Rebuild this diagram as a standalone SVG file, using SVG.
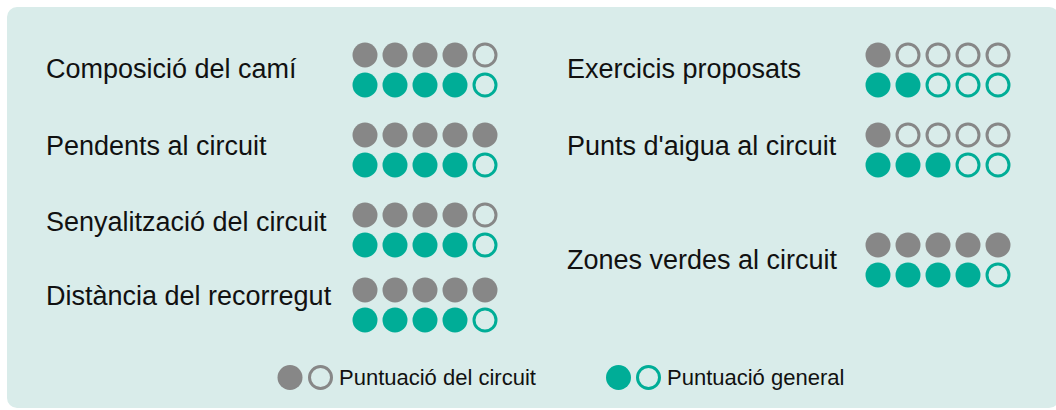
<svg xmlns="http://www.w3.org/2000/svg" width="1056" height="410" viewBox="0 0 1056 410">
  <style>
    .bg { fill: #d9ecea; }
    .lbl { font-family: "Liberation Sans", Arial, sans-serif; font-size: 27px; fill: #111111; }
    .leg { font-family: "Liberation Sans", Arial, sans-serif; font-size: 22px; fill: #111111; }
    .gf { fill: #878787; }
    .go { fill: none; stroke: #878787; stroke-width: 3; }
    .tf { fill: #00ad97; }
    .to { fill: none; stroke: #00ad97; stroke-width: 3; }
  </style>
  <defs>
    <circle id="gF" r="12.5" class="gf"/>
    <circle id="gO" r="11" class="go"/>
    <circle id="tF" r="12.5" class="tf"/>
    <circle id="tO" r="11" class="to"/>
  </defs>
  <rect class="bg" x="7" y="7" width="1052" height="401" rx="10" ry="10"/>

  <g id="composicio">
    <text class="lbl" x="46" y="78">Composició del camí</text>
    <use href="#gF" x="365" y="55"/><use href="#gF" x="395" y="55"/><use href="#gF" x="425" y="55"/><use href="#gF" x="455" y="55"/><use href="#gO" x="485" y="55"/>
    <use href="#tF" x="365" y="85"/><use href="#tF" x="395" y="85"/><use href="#tF" x="425" y="85"/><use href="#tF" x="455" y="85"/><use href="#tO" x="485" y="85"/>
  </g>

  <g id="pendents">
    <text class="lbl" x="46" y="155">Pendents al circuit</text>
    <use href="#gF" x="365" y="135"/><use href="#gF" x="395" y="135"/><use href="#gF" x="425" y="135"/><use href="#gF" x="455" y="135"/><use href="#gF" x="485" y="135"/>
    <use href="#tF" x="365" y="165"/><use href="#tF" x="395" y="165"/><use href="#tF" x="425" y="165"/><use href="#tF" x="455" y="165"/><use href="#tO" x="485" y="165"/>
  </g>

  <g id="senyalitzacio">
    <text class="lbl" x="46" y="231">Senyalització del circuit</text>
    <use href="#gF" x="365" y="215"/><use href="#gF" x="395" y="215"/><use href="#gF" x="425" y="215"/><use href="#gF" x="455" y="215"/><use href="#gO" x="485" y="215"/>
    <use href="#tF" x="365" y="245"/><use href="#tF" x="395" y="245"/><use href="#tF" x="425" y="245"/><use href="#tF" x="455" y="245"/><use href="#tO" x="485" y="245"/>
  </g>

  <g id="distancia">
    <text class="lbl" x="46" y="305">Distància del recorregut</text>
    <use href="#gF" x="365" y="290"/><use href="#gF" x="395" y="290"/><use href="#gF" x="425" y="290"/><use href="#gF" x="455" y="290"/><use href="#gF" x="485" y="290"/>
    <use href="#tF" x="365" y="320"/><use href="#tF" x="395" y="320"/><use href="#tF" x="425" y="320"/><use href="#tF" x="455" y="320"/><use href="#tO" x="485" y="320"/>
  </g>

  <g id="exercicis">
    <text class="lbl" x="567" y="78">Exercicis proposats</text>
    <use href="#gF" x="878" y="55"/><use href="#gO" x="908" y="55"/><use href="#gO" x="938" y="55"/><use href="#gO" x="968" y="55"/><use href="#gO" x="998" y="55"/>
    <use href="#tF" x="878" y="85"/><use href="#tF" x="908" y="85"/><use href="#tO" x="938" y="85"/><use href="#tO" x="968" y="85"/><use href="#tO" x="998" y="85"/>
  </g>

  <g id="punts-aigua">
    <text class="lbl" x="567" y="155">Punts d'aigua al circuit</text>
    <use href="#gF" x="878" y="135"/><use href="#gO" x="908" y="135"/><use href="#gO" x="938" y="135"/><use href="#gO" x="968" y="135"/><use href="#gO" x="998" y="135"/>
    <use href="#tF" x="878" y="165"/><use href="#tF" x="908" y="165"/><use href="#tF" x="938" y="165"/><use href="#tO" x="968" y="165"/><use href="#tO" x="998" y="165"/>
  </g>

  <g id="zones-verdes">
    <text class="lbl" x="567" y="269">Zones verdes al circuit</text>
    <use href="#gF" x="878" y="245"/><use href="#gF" x="908" y="245"/><use href="#gF" x="938" y="245"/><use href="#gF" x="968" y="245"/><use href="#gF" x="998" y="245"/>
    <use href="#tF" x="878" y="275"/><use href="#tF" x="908" y="275"/><use href="#tF" x="938" y="275"/><use href="#tF" x="968" y="275"/><use href="#tO" x="998" y="275"/>
  </g>

  <g id="legend">
    <use href="#gF" x="290" y="377.5"/><use href="#gO" x="320.5" y="377.5"/>
    <text class="leg" x="339" y="385">Puntuació del circuit</text>
    <use href="#tF" x="618.5" y="377.5"/><use href="#tO" x="648.5" y="377.5"/>
    <text class="leg" x="667" y="385">Puntuació general</text>
  </g>

  <g id="connectors"/>
</svg>
